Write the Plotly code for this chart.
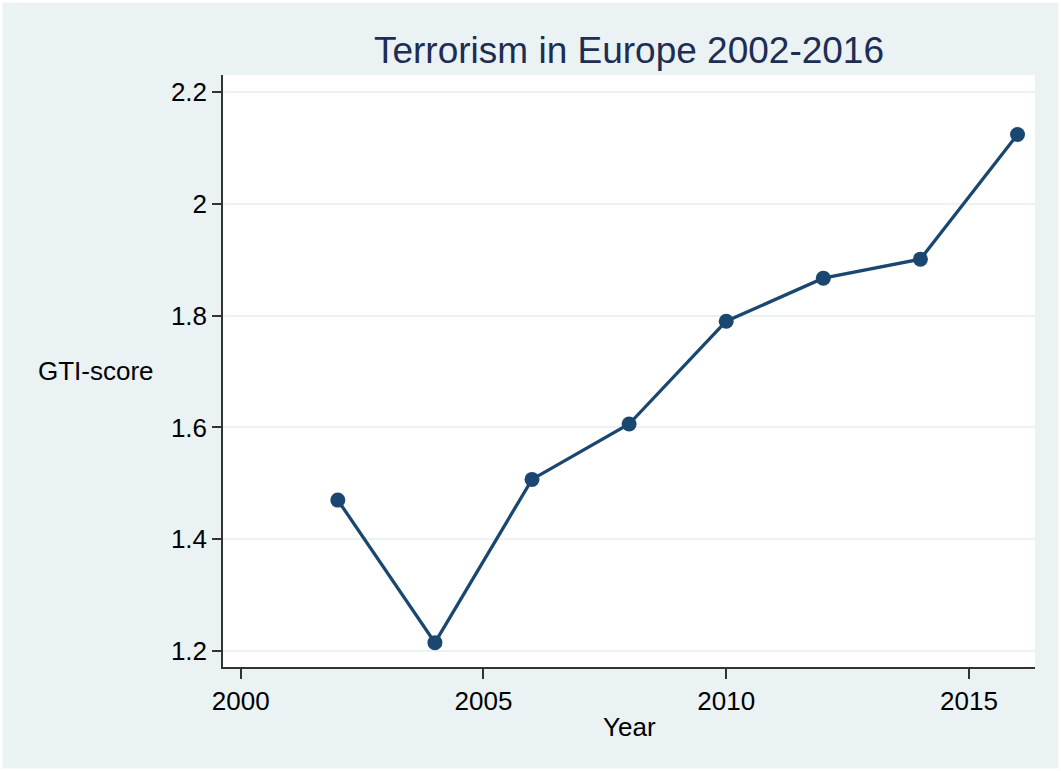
import plotly.graph_objects as go

# GTI-score for Europe, every second year
years = [2002, 2004, 2006, 2008, 2010, 2012, 2014, 2016]
gti_score = [1.470, 1.215, 1.507, 1.606, 1.790, 1.867, 1.901, 2.124]

x_ticks = [2000, 2005, 2010, 2015]
y_ticks = [1.2, 1.4, 1.6, 1.8, 2.0, 2.2]
y_tick_text = ["1.2", "1.4", "1.6", "1.8", "2", "2.2"]

W, H = 1061, 771
L, R, T, B = 223, 26, 75, 104
BG = "#EAF2F3"
NAVY = "#1A476F"
FONT = "Liberation Sans, Arial, sans-serif"

fig = go.Figure()
fig.add_trace(go.Scatter(
    x=years, y=gti_score, mode="lines+markers",
    line=dict(color=NAVY, width=3.3),
    marker=dict(color=NAVY, size=15),
    showlegend=False, hoverinfo="x+y",
))

pw, ph = W - L - R, H - T - B
fig.update_layout(
    width=W, height=H,
    margin=dict(l=L, r=R, t=T, b=B, pad=0),
    paper_bgcolor=BG, plot_bgcolor="white",
    font=dict(family=FONT, color="#000000"),
    title=dict(text="Terrorism in Europe 2002-2016", x=(L + pw / 2) / W, xanchor="center",
               y=1 - 50 / H, yanchor="middle",
               font=dict(size=37, color="#1E2D53", family=FONT)),
    xaxis=dict(range=[1999.635, 2016.36], tickvals=x_ticks, ticks="outside", ticklen=10,
               tickwidth=1.5, tickcolor="#333333", showline=True, linecolor="#333333",
               linewidth=1.5, showgrid=False, zeroline=False,
               tickfont=dict(size=26)),
    yaxis=dict(range=[1.1714, 2.2304], tickvals=y_ticks, ticktext=y_tick_text,
               ticks="outside", ticklen=9, tickwidth=1.5, tickcolor="#333333",
               showline=True, linecolor="#333333", linewidth=1.5,
               showgrid=True, gridcolor=BG, gridwidth=2, zeroline=False,
               tickfont=dict(size=26)),
    annotations=[
        dict(text="GTI-score", xref="paper", yref="paper",
             x=(96 - L) / pw, y=(H - B - 371) / ph, xanchor="center", yanchor="middle",
             showarrow=False, font=dict(size=26)),
        dict(text="Year", xref="paper", yref="paper",
             x=(629 - L) / pw, y=(H - B - 727) / ph, xanchor="center", yanchor="middle",
             showarrow=False, font=dict(size=26)),
    ],
    shapes=[dict(type="rect", xref="paper", yref="paper", layer="above",
                 x0=-(L - 1) / pw, x1=1 + (R - 1) / pw,
                 y0=-(B - 1) / ph, y1=1 + (T - 1) / ph,
                 line=dict(color="white", width=3))],
)

fig.write_html("out.html")
